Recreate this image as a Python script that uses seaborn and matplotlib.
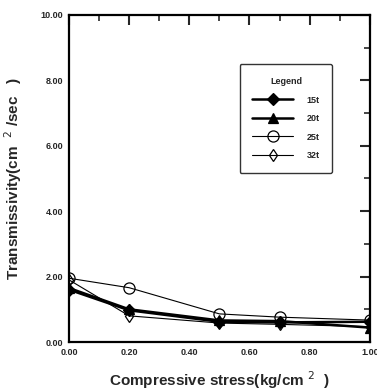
import numpy as np
import pandas as pd
import matplotlib
matplotlib.use("Agg")
import matplotlib.pyplot as plt
import seaborn as sns
from matplotlib.ticker import MultipleLocator, FormatStrFormatter

sns.set_theme(style="white")
plt.rcParams['font.family'] = ['Liberation Sans', 'DejaVu Sans']

stress = [0.0, 0.2, 0.5, 0.7, 1.0]
t15 = [1.60, 0.97, 0.62, 0.60, 0.62]
t20 = [1.65, 1.00, 0.66, 0.64, 0.44]
t25 = [1.95, 1.66, 0.86, 0.76, 0.67]
t32 = [1.90, 0.80, 0.58, 0.54, 0.47]
labels = ["15t", "20t", "25t", "32t"]

rows = []
for lab, vals in zip(labels, [t15, t20, t25, t32]):
    for x, y in zip(stress, vals):
        rows.append({"stress": x, "trans": y, "series": lab})
df = pd.DataFrame(rows)

fig = plt.figure(figsize=(3.77, 3.90), dpi=100)
ax = fig.add_axes([0.183, 0.123, 0.798, 0.839])

styles = {
    "15t": dict(marker="D", markersize=6, markerfacecolor="black", lw=1.8),
    "20t": dict(marker="^", markersize=7, markerfacecolor="black", lw=1.8),
    "25t": dict(marker="o", markersize=8, markerfacecolor="none", lw=0.8),
    "32t": dict(marker="d", markersize=6, markerfacecolor="none", lw=0.8),
}
for lab in labels:
    sub = df[df["series"] == lab]
    st = styles[lab]
    sns.lineplot(data=sub, x="stress", y="trans", ax=ax, color="black",
                 marker=st["marker"], markersize=st["markersize"],
                 markerfacecolor=st["markerfacecolor"], markeredgecolor="black",
                 markeredgewidth=0.9, linewidth=st["lw"], label=lab)

ax.set_xlim(0, 1.0)
ax.set_ylim(0, 10)
ax.xaxis.set_major_locator(MultipleLocator(0.2))
ax.xaxis.set_minor_locator(MultipleLocator(0.1))
ax.yaxis.set_major_locator(MultipleLocator(2))
ax.yaxis.set_minor_locator(MultipleLocator(1))
ax.xaxis.set_major_formatter(FormatStrFormatter("%.2f"))
ax.yaxis.set_major_formatter(FormatStrFormatter("%.2f"))
ax.tick_params(which="major", direction="in", length=7, width=1.5,
               top=True, right=True, labelsize=6.5, pad=4)
ax.tick_params(which="minor", direction="in", length=4, width=1.2,
               top=True, right=True)
for lbl in ax.get_xticklabels() + ax.get_yticklabels():
    lbl.set_fontweight("bold")
for sp in ax.spines.values():
    sp.set_linewidth(1.6)
    sp.set_color("black")

ax.set_xlabel("Compressive stress(kg/cm $^{2}$  )", fontsize=11,
              fontweight="bold", labelpad=9)
ax.set_ylabel("Transmissivity(cm  $^{2}$ /sec   )", fontsize=11,
              fontweight="bold", labelpad=12)

leg = ax.legend(title="Legend", loc="upper right", bbox_to_anchor=(0.89, 0.862),
                frameon=True, fancybox=True, fontsize=6.5, title_fontsize=6.5,
                handlelength=4.5, labelspacing=1.05, borderpad=1.4,
                handletextpad=1.5, markerfirst=True)
leg.get_frame().set_edgecolor("black")
leg.get_frame().set_linewidth(1.0)
leg.get_title().set_fontweight("bold")
for t in leg.get_texts():
    t.set_fontweight("bold")

fig.savefig("out.png", dpi=100)
